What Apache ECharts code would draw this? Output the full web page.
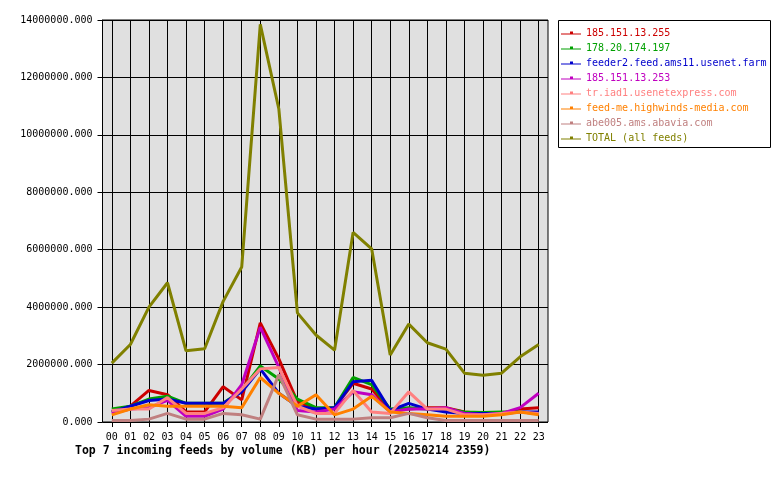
<!DOCTYPE html>
<html>
<head>
<meta charset="utf-8">
<script src="https://cdn.jsdelivr.net/npm/echarts@6/dist/echarts.min.js"></script>
<style>
  html, body { margin: 0; padding: 0; background: #fff; }
  #chart { width: 780px; height: 480px; }
</style>
</head>
<body>
<div id="chart"></div>
<script>
// hours of the day
var hours = ['00', '01', '02', '03', '04', '05', '06', '07', '08', '09', '10', '11',
             '12', '13', '14', '15', '16', '17', '18', '19', '20', '21', '22', '23'];

// y axis ticks
var yTicks = [0, 2000000, 4000000, 6000000, 8000000, 10000000, 12000000, 14000000];

// feed names (legend)
var feedNames = ['185.151.13.255', '178.20.174.197', 'feeder2.feed.ams11.usenet.farm', '185.151.13.253',
                 'tr.iad1.usenetexpress.com', 'feed-me.highwinds-media.com', 'abe005.ams.abavia.com', 'TOTAL (all feeds)'];
var feedColors = ['#cc0000', '#00a000', '#0000cc', '#c000c0', '#ff8080', '#ff8000', '#c08080', '#808000'];

// KB per hour, per feed
var feed255 = [350000, 550000, 1100000, 950000, 350000, 350000, 1230000, 770000, 3450000, 2200000, 700000, 450000,
               500000, 1350000, 1150000, 400000, 450000, 500000, 500000, 350000, 300000, 300000, 450000, 500000];
var feed197 = [450000, 550000, 800000, 900000, 650000, 650000, 650000, 1100000, 1950000, 1500000, 800000, 500000,
               500000, 1550000, 1300000, 450000, 500000, 450000, 450000, 350000, 330000, 350000, 350000, 300000];
var feeder2 = [350000, 550000, 750000, 800000, 650000, 650000, 650000, 1050000, 1850000, 1000000, 550000, 450000,
               500000, 1400000, 1450000, 400000, 650000, 450000, 350000, 300000, 300000, 300000, 350000, 350000];
var feed253 = [300000, 450000, 500000, 750000, 200000, 200000, 450000, 1300000, 3300000, 1900000, 400000, 350000,
               450000, 1050000, 950000, 350000, 450000, 450000, 500000, 300000, 250000, 300000, 500000, 1000000];
var usenetexpress = [400000, 450000, 450000, 850000, 300000, 300000, 500000, 1150000, 1850000, 1900000, 550000, 300000,
               300000, 1100000, 350000, 300000, 1050000, 450000, 450000, 250000, 250000, 300000, 350000, 300000];
var highwinds = [250000, 450000, 600000, 550000, 550000, 550000, 550000, 500000, 1550000, 1000000, 550000, 950000,
               250000, 450000, 900000, 350000, 300000, 250000, 200000, 200000, 200000, 250000, 350000, 250000];
var abavia = [50000, 50000, 100000, 300000, 100000, 100000, 300000, 250000, 100000, 1650000, 250000, 100000,
               100000, 100000, 150000, 150000, 300000, 150000, 50000, 50000, 50000, 50000, 50000, 50000];
var total = [2050000, 2700000, 4000000, 4850000, 2480000, 2550000, 4200000, 5400000, 13850000, 10900000, 3800000, 3030000,
               2500000, 6600000, 6030000, 2330000, 3410000, 2760000, 2540000, 1700000, 1630000, 1700000, 2270000, 2700000];

var feedData = [feed255, feed197, feeder2, feed253, usenetexpress, highwinds, abavia, total];

var mono = '"DejaVu Sans Mono", monospace';

var chart = echarts.init(document.getElementById('chart'));

var series = [];
var legendData = [];
for (var i = 0; i < feedNames.length; i++) {
    series.push({
        name: feedNames[i],
        type: 'line',
        xAxisIndex: 1,
        yAxisIndex: 1,
        data: feedData[i],
        showSymbol: false,
        symbol: 'rect',
        color: feedColors[i],
        lineStyle: { width: 3, color: feedColors[i] },
        animation: false
    });
    legendData.push({ name: feedNames[i], textStyle: { color: feedColors[i] } });
}

var option = {
    animation: false,
    title: {
        text: 'Top 7 incoming feeds by volume (KB) per hour (20250214 2359)',
        left: 75,
        top: 445,
        padding: 0,
        textStyle: { fontFamily: mono, fontSize: 11.5, fontWeight: 'bold', color: '#000' }
    },
    legend: {
        data: legendData,
        orient: 'vertical',
        left: 561,
        top: 27,
        padding: 0,
        itemGap: 3,
        itemWidth: 20,
        itemHeight: 4,
        icon: 'path://M0,3h20v1h-20z M9,1h3v3h-3z',
        textStyle: { fontFamily: mono, fontSize: 10, lineHeight: 12 }
    },
    graphic: [{
        type: 'rect',
        shape: { x: 558.5, y: 20.5, width: 212, height: 127 },
        style: { fill: 'none', stroke: '#000', lineWidth: 1 }
    }],
    grid: [
        { left: 102.5, top: 20, width: 445.5, height: 402, show: true,
          backgroundColor: '#e0e0e0', borderColor: '#000', borderWidth: 1 },
        { left: 111.8, top: 20, width: 426.9, height: 402 }
    ],
    xAxis: [
        { gridIndex: 0, type: 'value', min: 0, max: 1, show: false },
        {
            gridIndex: 1,
            type: 'category',
            data: hours,
            boundaryGap: false,
            axisLine: { show: false },
            axisTick: { show: true, length: 5, interval: 0, lineStyle: { color: '#000' } },
            axisLabel: { interval: 0, margin: 10, fontFamily: mono, fontSize: 10, color: '#000' },
            splitLine: { show: true, interval: 0, lineStyle: { color: '#000', width: 1 } }
        }
    ],
    yAxis: [
        {
            gridIndex: 0,
            type: 'value',
            min: yTicks[0],
            max: yTicks[yTicks.length - 1],
            interval: yTicks[1] - yTicks[0],
            axisLine: { show: true, lineStyle: { color: '#000' } },
            axisTick: { show: true, length: 5, lineStyle: { color: '#000' } },
            axisLabel: {
                margin: 10, fontFamily: mono, fontSize: 10, color: '#000',
                formatter: function (v) { return v.toFixed(3); }
            },
            splitLine: { show: true, lineStyle: { color: '#000', width: 1 } }
        },
        {
            gridIndex: 1,
            type: 'value',
            min: yTicks[0],
            max: yTicks[yTicks.length - 1],
            show: false
        }
    ],
    series: series
};

chart.setOption(option);
</script>
</body>
</html>
